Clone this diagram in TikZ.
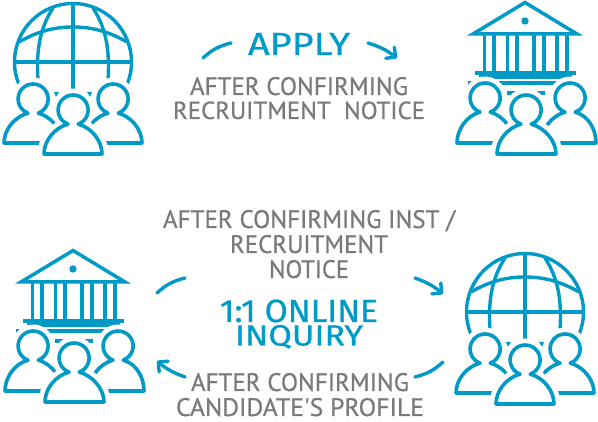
\documentclass[tikz,border=0pt]{standalone}
\usepackage{fontspec}
\newfontfamily\greyfont{PT Sans}[RawFeature={embolden=0.7}]
\newfontfamily\headfont{Fira Sans}[RawFeature={embolden=0.6}]
\usetikzlibrary{arrows.meta}
\definecolor{iconblue}{HTML}{009AC7}
\definecolor{labelgrey}{HTML}{7A7A7A}
\newcommand{\person}[5]{%
  \def\personpath{(#3,#5) .. controls (#3,#5-13) and (#1-19,#2+18) .. (#1-5,#2+14.1)
    arc[start angle=110,end angle=430,radius=15]
    .. controls (#1+19,#2+18) and (#4,#5-13) .. (#4,#5) -- cycle}%
  \fill[white,draw=white,line width=13pt,line join=round] \personpath;
  \draw[iconblue,line width=3.6pt,fill=white,line join=round] \personpath;
}
\newcommand{\fitlabel}[6]{% name, x, baseline, width, height, text
  \node[anchor=base west,inner sep=0pt,outer sep=0pt] (#1) at (#2,#3) {\resizebox{#4pt}{#5pt}{#6}};}
\tikzset{
  x=1pt,y=-1pt,
  iconline/.style={iconblue,line width=3.4pt},
  flow/.style={iconblue,line width=3.4pt,line cap=round},
  flowhead/.style={flow,-{Straight Barb[length=7pt,width=14pt,round]}},
  globe/.pic={
    \draw[iconline] (73,62) circle[radius=58.5];
    \draw[iconline] (15,62) -- (132,62);
    \draw[iconline] (73,4) -- (73,90);
    \draw[iconline] (19,42) .. controls (38,31) and (55,27) .. (73,27) .. controls (91,27) and (108,31) .. (127,42);
    \draw[iconline] (53,8) .. controls (40,28) and (36,50) .. (38,80);
    \draw[iconline] (93,8) .. controls (106,28) and (110,50) .. (108,80);
    \person{33}{99}{4}{62}{143}
    \person{113}{99}{84}{142}{143}
    \fill[iconblue] (54,92) -- (59,92) -- (56,97) -- cycle;
    \fill[iconblue] (87,92) -- (92,92) -- (90,97) -- cycle;
    \person{73}{110}{44}{102}{154}
  },
  bank/.pic={
    \draw[iconblue,line width=3.5pt,line join=miter] (23,34) -- (75,2.5) -- (127,34) -- cycle;
    \fill[iconblue] (75,21) circle[radius=3.7];
    \foreach \cx in {34.5,44,57.5,67,84,94,107,117}{
      \fill[iconblue] (\cx-1.9,34) rectangle (\cx+1.9,72);
    }
    \fill[iconblue] (25,71) rectangle (126,75);
    \fill[iconblue] (29,75) rectangle (122,79);
    \fill[iconblue] (18,81) rectangle (133,85.5);
    \fill[iconblue] (57,91) rectangle (95,95);
    \person{35}{98}{7}{64}{143}
    \person{120}{98}{91}{146}{143}
    \person{76}{110}{47}{106}{154}
  }
}
\begin{document}
\begin{tikzpicture}
\useasboundingbox (0,0) rectangle (598,422);
\pic at (0,0) {globe};
\pic at (450,0) {bank};
\pic at (-2,248) {bank};
\pic at (452,250) {globe};

\coordinate (a1) at (203,58); \coordinate (a2) at (231,43);
\coordinate (b1) at (368,43); \coordinate (b2) at (397,58);
\coordinate (c1) at (157,293); \coordinate (c2) at (185,278);
\coordinate (d1) at (415,278); \coordinate (d2) at (443,294);
\coordinate (e1) at (443,362); \coordinate (e2) at (415,377);
\coordinate (f1) at (185,377); \coordinate (f2) at (157,361);
\draw[flow] (a1) to[bend left=14] (a2);
\draw[flowhead] (b1) to[bend left=10] (b2);
\draw[flow] (c1) to[bend left=14] (c2);
\draw[flowhead] (d1) to[bend left=10] (d2);
\draw[flow] (e1) to[bend left=14] (e2);
\draw[flowhead] (f1) to[bend left=10] (f2);

\begin{scope}[text=iconblue]
\fitlabel{apply}{248}{55}{102}{22}{\headfont APPLY}
\fitlabel{online}{220}{322}{158}{22.5}{\headfont 1:1 ONLINE}
\fitlabel{inquiry}{235}{345.5}{128}{20.5}{\headfont INQUIRY}
\end{scope}
\begin{scope}[text=labelgrey,font=\greyfont]
\fitlabel{t1}{190}{95}{218}{18}{AFTER CONFIRMING}
\fitlabel{t2}{173}{119}{252}{17.5}{RECRUITMENT\ \ NOTICE}
\fitlabel{m1}{163}{228}{292}{18}{AFTER CONFIRMING INST /}
\fitlabel{m2}{230}{253}{158}{18}{RECRUITMENT}
\fitlabel{m3}{269}{278}{80}{18}{NOTICE}
\fitlabel{b1t}{191}{391}{218}{18}{AFTER CONFIRMING}
\fitlabel{b2t}{176}{416}{248}{18}{CANDIDATE'S PROFILE}
\end{scope}
\end{tikzpicture}
\end{document}
